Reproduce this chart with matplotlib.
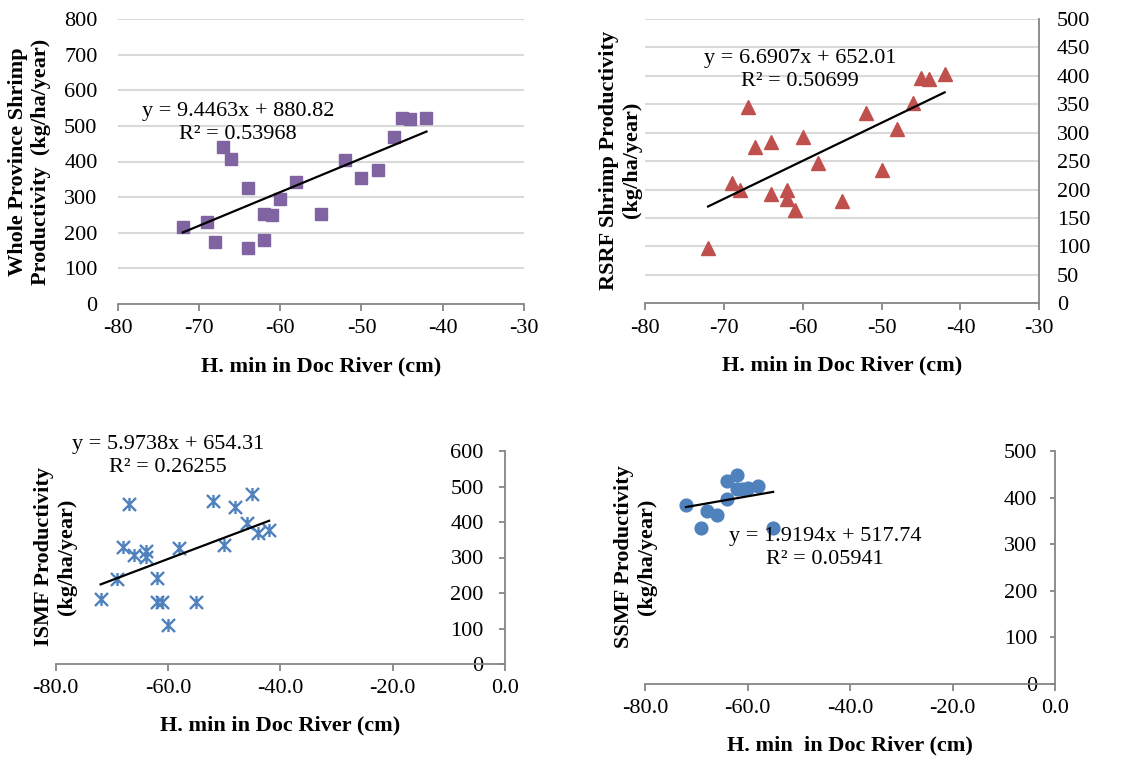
import numpy as np
import matplotlib
matplotlib.use("Agg")
import matplotlib.pyplot as plt
from matplotlib.path import Path

plt.rcParams['font.family'] = ['Liberation Serif', 'DejaVu Serif']
plt.rcParams['font.size'] = 15
plt.rcParams['axes.unicode_minus'] = False

# Minimum water level in Doc River (cm) for each year
h_min = [-72, -69, -68, -67, -66, -64, -64, -62, -62, -61,
         -60, -58, -55, -52, -50, -48, -46, -45, -44, -42]
# Shrimp productivity (kg/ha/year)
whole_prov = [216, 229, 174, 442, 408, 325, 157, 252, 180, 250,
              294, 343, 252, 403, 354, 375, 470, 521, 520, 521]
rsrf = [97, 211, 199, 346, 275, 284, 192, 200, 183, 164,
        293, 246, 180, 334, 234, 306, 352, 397, 394, 404]
ismf = [182, 239, 330, 450, 307, 319, 302, 241, 176, 176,
        110, 326, 176, 460, 335, 441, 396, 479, 368, 377]
h_min_ssmf = [-72, -69, -68, -66, -64, -64, -62, -62, -61, -60, -58, -55]
ssmf = [384, 335, 371, 362, 435, 397, 448, 418, 418, 420, 425, 335]

# Linear trend lines: slope, intercept, R^2 text
slopes = [9.4463, 6.6907, 5.9738, 1.9194]
intercepts = [880.82, 652.01, 654.31, 517.74]
r2_text = ['0.53968', '0.50699', '0.26255', '0.05941']

W, H = 1146, 758
fig = plt.figure(figsize=(W / 100, H / 100), dpi=100)

GRID = '#d9d9d9'
SPINE = '#868686'
FS = 16


def add_ax(x0, x1, ytop, ybot):
    return fig.add_axes([x0 / W, 1 - ybot / H, (x1 - x0) / W, (ybot - ytop) / H])


def fig_text(x, y, s, **kw):
    fig.text(x / W, 1 - y / H, s, **kw)


def trend(ax, i, x_lo, x_hi):
    xs = np.array([x_lo, x_hi])
    ax.plot(xs, slopes[i] * xs + intercepts[i], color='black', lw=1.6, zorder=4)


def eq_label(i, x, y):
    txt = 'y = %.4fx + %.2f\nR² = %s' % (slopes[i], intercepts[i], r2_text[i])
    fig_text(x, y, txt, ha='center', va='center', multialignment='center',
             linespacing=1.35, fontsize=FS)


def base_style(ax):
    for s in ax.spines.values():
        s.set_visible(False)
    ax.spines['bottom'].set_visible(True)
    ax.spines['bottom'].set_color(SPINE)
    ax.spines['bottom'].set_linewidth(1.3)
    ax.tick_params(axis='x', direction='out', length=7 / 1.389, width=1.3,
                   color=SPINE, pad=6, labelsize=FS)
    ax.set_facecolor('none')


# asterisk marker: vertical bar plus an X
star = Path([(-1, -1), (1, 1), (-1, 1), (1, -1), (0, -1), (0, 1)],
            [Path.MOVETO, Path.LINETO, Path.MOVETO, Path.LINETO, Path.MOVETO, Path.LINETO])

# --- Whole province ---
ax1 = add_ax(117.7, 524, 19, 304)
base_style(ax1)
ax1.set_xlim(-80, -30)
ax1.set_ylim(0, 800)
ax1.set_xticks(np.arange(-80, -29, 10))
ax1.set_yticks(np.arange(0, 801, 100))
ax1.yaxis.grid(True, color=GRID, lw=1.5)
ax1.set_axisbelow(True)
ax1.tick_params(axis='y', length=0, pad=14.5, labelsize=FS)
ax1.plot(h_min, whole_prov, 's', color='#8064a2', ms=8.4, mec='#8064a2', zorder=3)
trend(ax1, 0, -72, -42)
eq_label(0, 238, 123)
fig_text(30, 162, 'Whole Province Shrimp\nProductivity  (kg/ha/year)', rotation=90,
         ha='center', va='center', multialignment='center', fontweight='bold', fontsize=FS)
fig_text(321, 366, 'H. min in Doc River (cm)', ha='center', va='center',
         fontweight='bold', fontsize=FS)

# --- RSRF ---
ax2 = add_ax(645, 1039.3, 19, 303.3)
base_style(ax2)
ax2.spines['right'].set_visible(True)
ax2.spines['right'].set_color(SPINE)
ax2.spines['right'].set_linewidth(1.3)
ax2.set_xlim(-80, -30)
ax2.set_ylim(0, 500)
ax2.set_xticks(np.arange(-80, -29, 10))
ax2.set_yticks(np.arange(0, 501, 50))
ax2.yaxis.tick_right()
ax2.yaxis.grid(True, color=GRID, lw=1.5)
ax2.set_axisbelow(True)
ax2.tick_params(axis='y', length=0, pad=12.7, labelsize=FS)
ax2.plot(h_min, rsrf, '^', color='#c0504d', ms=9.8, mec='#c0504d', zorder=3)
trend(ax2, 1, -72, -42)
eq_label(1, 800, 70)
fig_text(620, 160, 'RSRF Shrimp Productivity\n(kg/ha/year)', rotation=90,
         ha='center', va='center', multialignment='center', fontweight='bold', fontsize=FS)
fig_text(842, 365, 'H. min in Doc River (cm)', ha='center', va='center',
         fontweight='bold', fontsize=FS)

# --- ISMF ---
ax3 = add_ax(55.7, 505, 451, 664)
base_style(ax3)
ax3.spines['left'].set_visible(True)
ax3.spines['left'].set_position(('data', 0))
ax3.spines['left'].set_color(SPINE)
ax3.spines['left'].set_linewidth(1.3)
ax3.set_xlim(-80, 0)
ax3.set_ylim(0, 600)
ax3.set_xticks(np.arange(-80, 1, 20))
ax3.set_xticklabels(['%.1f' % v for v in np.arange(-80, 1, 20)])
ax3.set_yticks(np.arange(0, 601, 100))
ax3.tick_params(axis='y', direction='out', length=6 / 1.389, width=1.3, color=SPINE,
                pad=11, labelsize=FS)
ax3.plot(h_min, ismf, linestyle='none', marker=star, ms=9.4, mew=1.7,
         color='#4f81bd', mec='#4f81bd', zorder=3)
trend(ax3, 2, -72, -42)
eq_label(2, 168, 456)
fig_text(56, 557, 'ISMF Productivity\n(kg/ha/year)', rotation=90,
         ha='center', va='center', multialignment='center', fontweight='bold', fontsize=FS)
fig_text(280, 725, 'H. min in Doc River (cm)', ha='center', va='center',
         fontweight='bold', fontsize=FS)

# --- SSMF ---
ax4 = add_ax(645, 1055, 451, 683.7)
base_style(ax4)
ax4.spines['left'].set_visible(True)
ax4.spines['left'].set_position(('data', 0))
ax4.spines['left'].set_color(SPINE)
ax4.spines['left'].set_linewidth(1.3)
ax4.set_xlim(-80, 0)
ax4.set_ylim(0, 500)
ax4.set_xticks(np.arange(-80, 1, 20))
ax4.set_xticklabels(['%.1f' % v for v in np.arange(-80, 1, 20)])
ax4.set_yticks(np.arange(0, 501, 100))
ax4.tick_params(axis='y', direction='out', length=5 / 1.389, width=1.3, color=SPINE,
                pad=9.3, labelsize=FS)
ax4.plot(h_min_ssmf, ssmf, 'o', color='#4f81bd', ms=9.2, mec='#4f81bd', zorder=3)
trend(ax4, 3, -72, -55)
eq_label(3, 825, 548)
fig_text(635, 557, 'SSMF Productivity\n(kg/ha/year)', rotation=90,
         ha='center', va='center', multialignment='center', fontweight='bold', fontsize=FS)
fig_text(850, 745, 'H. min  in Doc River (cm)', ha='center', va='center',
         fontweight='bold', fontsize=FS)

fig.savefig('out.png', dpi=100)
